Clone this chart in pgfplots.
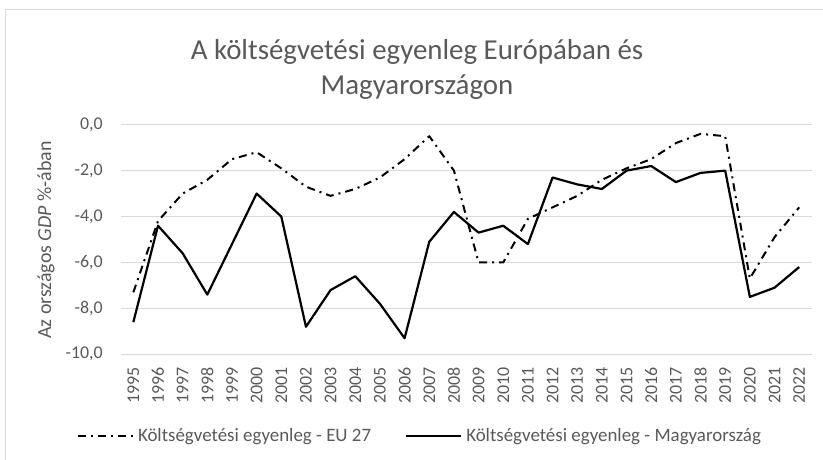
\documentclass[border=0pt]{standalone}
\usepackage{pgfplots}
\pgfplotsset{compat=1.18}
\usepackage{pgfplotstable}
\usepackage{fontspec}
\setmainfont{Carlito}
\definecolor{txt}{HTML}{595959}
\definecolor{grd}{HTML}{D9D9D9}

\pgfplotstableread{
x year eu hu
0 1995 -7.3 -8.6
1 1996 -4.2 -4.4
2 1997 -3.0 -5.6
3 1998 -2.4 -7.4
4 1999 -1.5 -5.2
5 2000 -1.2 -3.0
6 2001 -1.9 -4.0
7 2002 -2.7 -8.8
8 2003 -3.1 -7.2
9 2004 -2.8 -6.6
10 2005 -2.3 -7.8
11 2006 -1.5 -9.3
12 2007 -0.5 -5.1
13 2008 -2.0 -3.8
14 2009 -6.0 -4.7
15 2010 -6.0 -4.4
16 2011 -4.1 -5.2
17 2012 -3.6 -2.3
18 2013 -3.1 -2.6
19 2014 -2.4 -2.8
20 2015 -1.9 -2.0
21 2016 -1.5 -1.8
22 2017 -0.8 -2.5
23 2018 -0.4 -2.1
24 2019 -0.5 -2.0
25 2020 -6.7 -7.5
26 2021 -4.9 -7.1
27 2022 -3.6 -6.2
}\data

\begin{document}
\begin{tikzpicture}
\path[use as bounding box] (0,0) rectangle (823bp,460bp);
\draw[grd, line width=1bp] (5.5bp,-5bp) -- (5.5bp,450bp) -- (830bp,450bp);
\node[anchor=base, text=txt, font=\fontsize{29}{34}\selectfont] at (417bp,400bp) {A költségvetési egyenleg Európában és};
\node[anchor=base, text=txt, font=\fontsize{29}{34}\selectfont] at (417bp,365bp) {Magyarországon};
\node[rotate=90, text=txt, font=\fontsize{20}{24}\selectfont] at (46bp,220bp) {Az országos \textit{GDP} \%-ában};
\begin{axis}[
  at={(121bp,105.7bp)}, anchor=south west,
  scale only axis, width=690.5bp, height=229.6bp,
  xmin=-0.5, xmax=27.5, ymin=-10, ymax=0,
  ytick={-10,-8,-6,-4,-2,0},
  xtick={0,...,27},
  xticklabels={1995,1996,1997,1998,1999,2000,2001,2002,2003,2004,2005,2006,2007,2008,2009,2010,2011,2012,2013,2014,2015,2016,2017,2018,2019,2020,2021,2022},
  ymajorgrids, major grid style={grd, line width=1bp},
  axis line style={draw=none}, major tick style={draw=none},
  /pgf/number format/.cd, fixed, fixed zerofill, precision=1, use comma, assume math mode=true,
  /pgfplots/.cd,
  yticklabel style={text=txt, font=\fontsize{18}{21}\selectfont, inner sep=0pt},
  yticklabel shift=18bp,
  xticklabel style={text=txt, font=\fontsize{18}{21}\selectfont, rotate=90, anchor=east, inner sep=0pt},
  xticklabel shift=12.5bp,
  clip=false,
  legend columns=2,
  legend style={draw=none, fill=none, at={(-0.064,-0.356)}, anchor=west, inner sep=0pt,
    font=\fontsize{19}{22}\selectfont, text=txt,
    /tikz/every odd column/.append style={column sep=2bp},
    /tikz/every even column/.append style={column sep=32bp}},
  legend image code/.code={\draw[#1] (0bp,0bp) -- (55bp,0bp);},
  legend cell align=left,
]
\addplot[black, line width=2bp, line join=round, dash pattern=on 8bp off 5bp on 2bp off 5bp] table[x=x, y=eu] {\data};
\addlegendentry{Költségvetési egyenleg - EU 27}
\addplot[black, line width=2.2bp, line join=round] table[x=x, y=hu] {\data};
\addlegendentry{Költségvetési egyenleg - Magyarország}
\end{axis}
\end{tikzpicture}
\end{document}
